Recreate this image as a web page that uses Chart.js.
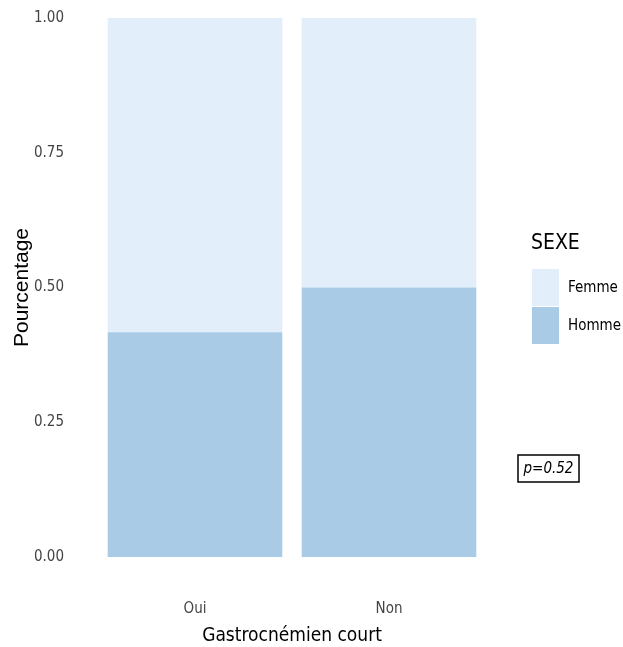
<!DOCTYPE html>
<html>
<head>
<meta charset="utf-8">
<script src="https://cdn.jsdelivr.net/npm/chart.js@4"></script>
<style>
  html, body { margin: 0; padding: 0; background: #fff; }
  #wrap { width: 623px; height: 647px; }
</style>
</head>
<body>
<div id="wrap"><canvas id="sexeChart" width="623" height="647"></canvas></div>
<script>
// Categories and proportions
const categories = ['Oui', 'Non'];
const hommeValues = [0.417, 0.50];
const femmeValues = [0.583, 0.50];
const yTicks = [0, 0.25, 0.5, 0.75, 1];
const pValueText = 'p=0.52';

const narrow = '"Liberation Sans Narrow", "DejaVu Sans Condensed", sans-serif';

// Legend on the right plus the p-value box
const sideLegend = {
  id: 'sideLegend',
  afterDraw(chart) {
    const ctx = chart.ctx;
    ctx.save();
    ctx.fillStyle = '#000';
    ctx.font = '21px ' + narrow;
    ctx.textBaseline = 'middle';
    ctx.textAlign = 'left';
    ctx.fillText('SEXE', 531, 244);

    // Femme on top, Homme below (same order as the reference)
    const items = [chart.data.datasets[1], chart.data.datasets[0]];
    items.forEach((ds, i) => {
      const y = 269 + i * 38;
      ctx.fillStyle = ds.backgroundColor;
      ctx.fillRect(532, y, 27, 37);
      ctx.fillStyle = '#000';
      ctx.font = '15px ' + narrow;
      ctx.fillText(ds.label, 568, y + 19);
    });

    // p-value box
    ctx.strokeStyle = '#000';
    ctx.lineWidth = 1.5;
    ctx.strokeRect(518, 455, 61, 27);
    ctx.font = 'italic 15px ' + narrow;
    ctx.textAlign = 'center';
    ctx.fillText(pValueText, 548.5, 469);
    ctx.restore();
  }
};

const ctx = document.getElementById('sexeChart').getContext('2d');
new Chart(ctx, {
  type: 'bar',
  data: {
    labels: categories,
    datasets: [
      { label: 'Homme', data: hommeValues, backgroundColor: '#a9cbe6', borderWidth: 0 },
      { label: 'Femme', data: femmeValues, backgroundColor: '#e2effa', borderWidth: 0 }
    ]
  },
  options: {
    responsive: false,
    animation: false,
    layout: { padding: { top: 18, right: 137, left: 0, bottom: 0 } },
    datasets: { bar: { categoryPercentage: 0.9, barPercentage: 1.0 } },
    plugins: {
      legend: { display: false },
      tooltip: { enabled: false }
    },
    scales: {
      x: {
        stacked: true,
        grid: { display: false },
        border: { display: false },
        ticks: { color: '#444', font: { family: narrow, size: 15 }, padding: 35 },
        title: {
          display: true,
          text: 'Gastrocnémien court',
          color: '#000',
          font: { family: narrow, size: 19 },
          padding: { top: 0, bottom: 0 }
        },
        afterFit(scale) { scale.height = 90; }
      },
      y: {
        stacked: true,
        min: 0,
        max: 1,
        afterBuildTicks(scale) { scale.ticks = yTicks.map(v => ({ value: v })); },
        grid: { display: false },
        border: { display: false },
        ticks: {
          color: '#444',
          font: { family: narrow, size: 15 },
          padding: 26,
          callback: v => Number(v).toFixed(2)
        },
        title: {
          display: true,
          text: 'Pourcentage',
          color: '#000',
          font: { family: 'Liberation Sans, Arial, sans-serif', size: 21 },
          padding: { top: 10, bottom: 0 }
        },
        afterFit(scale) {
          scale.width = 98;
          scale.paddingTop = 0;
          scale.paddingBottom = 0;
        }
      }
    }
  },
  plugins: [sideLegend]
});
</script>
</body>
</html>
